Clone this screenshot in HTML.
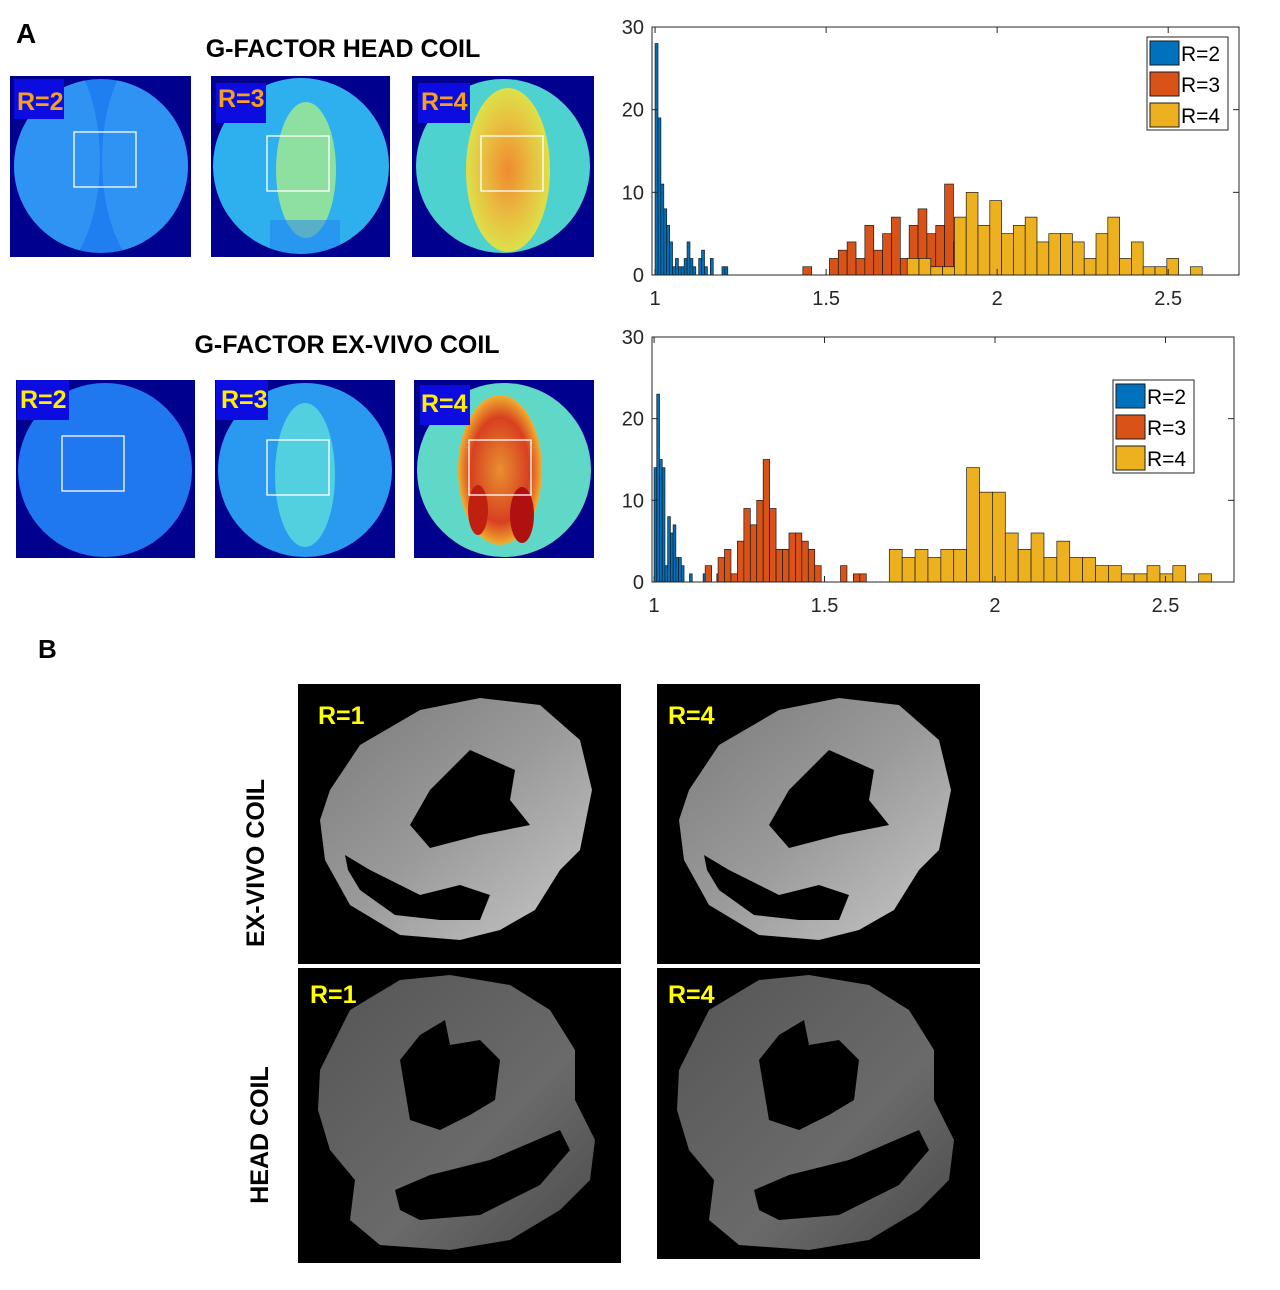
<!DOCTYPE html>
<html><head><meta charset="utf-8"><style>
html,body{margin:0;padding:0;background:#fff;}
svg text{font-family:"Liberation Sans",Arial,sans-serif;}
</style></head><body>
<svg id="root" width="1280" height="1285" viewBox="0 0 1280 1285" xmlns="http://www.w3.org/2000/svg">
<defs>
  <clipPath id="c1"><circle cx="101" cy="166" r="87"/></clipPath>
  <clipPath id="c2"><circle cx="301" cy="166" r="88"/></clipPath>
  <clipPath id="c3"><circle cx="503" cy="166" r="87"/></clipPath>
  <clipPath id="c4"><circle cx="105" cy="470" r="87"/></clipPath>
  <clipPath id="c5"><circle cx="305" cy="470" r="87"/></clipPath>
  <clipPath id="c6"><circle cx="504" cy="470" r="87"/></clipPath>
  <radialGradient id="hot" cx="0.5" cy="0.5" r="0.5"><stop offset="0" stop-color="#f08a30"/><stop offset="0.6" stop-color="#e8c040"/><stop offset="1" stop-color="#dde04a"/></radialGradient>
  <radialGradient id="hot2" cx="0.5" cy="0.5" r="0.5"><stop offset="0" stop-color="#e89030"/><stop offset="0.7" stop-color="#d84020"/><stop offset="1" stop-color="#f0b030"/></radialGradient>
  <linearGradient id="mriTop" x1="0" y1="0" x2="1" y2="1"><stop offset="0" stop-color="#7a7a7a"/><stop offset="0.5" stop-color="#9a9a9a"/><stop offset="1" stop-color="#c8c8c8"/></linearGradient>
  <linearGradient id="mriBot" x1="0" y1="0" x2="1" y2="1"><stop offset="0" stop-color="#555"/><stop offset="0.6" stop-color="#6a6a6a"/><stop offset="1" stop-color="#4a4a4a"/></linearGradient>
</defs>

<text x="16" y="43" font-size="28" font-weight="bold">A</text>
<text x="38" y="658" font-size="26" font-weight="bold">B</text>
<text x="343" y="57" font-size="25" font-weight="bold" text-anchor="middle">G-FACTOR HEAD COIL</text>
<text x="347" y="353" font-size="25" font-weight="bold" text-anchor="middle">G-FACTOR EX-VIVO COIL</text>

<!-- head coil gmaps -->
<g>
  <rect x="10" y="76" width="181" height="181" fill="#00008f"/>
  <circle cx="101" cy="166" r="87" fill="#1f7ef0"/>
  <g clip-path="url(#c1)"><ellipse cx="40" cy="160" rx="60" ry="120" fill="#2e93f2"/><ellipse cx="162" cy="160" rx="60" ry="120" fill="#2e93f2"/></g>
  <rect x="74" y="132" width="62" height="55" fill="none" stroke="#fff" stroke-width="1.3"/>
  <rect x="14" y="79" width="50" height="40" fill="#0c0ce0"/>
  <text x="17" y="110" font-size="25" font-weight="bold" fill="#f5a020">R=2</text>
</g>
<g>
  <rect x="211" y="76" width="179" height="181" fill="#00008f"/>
  <circle cx="301" cy="166" r="88" fill="#2fb0ee"/>
  <g clip-path="url(#c2)"><ellipse cx="306" cy="170" rx="30" ry="68" fill="#8ee0a0"/><rect x="270" y="220" width="70" height="60" fill="#1f7ef0" opacity="0.5"/></g>
  <rect x="267" y="136" width="62" height="55" fill="none" stroke="#fff" stroke-width="1.3"/>
  <rect x="216" y="83" width="50" height="40" fill="#0c0ce0"/>
  <text x="218" y="107" font-size="25" font-weight="bold" fill="#f5a020">R=3</text>
</g>
<g>
  <rect x="412" y="76" width="182" height="181" fill="#00008f"/>
  <circle cx="503" cy="166" r="87" fill="#4ed2d0"/>
  <g clip-path="url(#c3)"><ellipse cx="508" cy="170" rx="42" ry="82" fill="url(#hot)"/></g>
  <rect x="481" y="136" width="62" height="55" fill="none" stroke="#fff" stroke-width="1.3"/>
  <rect x="418" y="83" width="52" height="40" fill="#0c0ce0"/>
  <text x="421" y="110" font-size="25" font-weight="bold" fill="#f5a020">R=4</text>
</g>

<!-- ex vivo gmaps -->
<g>
  <rect x="16" y="380" width="179" height="178" fill="#00008f"/>
  <circle cx="105" cy="470" r="87" fill="#1f78f0"/>
  <rect x="62" y="436" width="62" height="55" fill="none" stroke="#fff" stroke-width="1.3"/>
  <rect x="17" y="380" width="52" height="40" fill="#0c0ce0"/>
  <text x="20" y="408" font-size="25" font-weight="bold" fill="#ffee00">R=2</text>
</g>
<g>
  <rect x="215" y="380" width="180" height="178" fill="#00008f"/>
  <circle cx="305" cy="470" r="87" fill="#2a9af0"/>
  <g clip-path="url(#c5)"><ellipse cx="305" cy="475" rx="30" ry="72" fill="#52d0e0"/></g>
  <rect x="267" y="440" width="62" height="55" fill="none" stroke="#fff" stroke-width="1.3"/>
  <rect x="216" y="380" width="52" height="40" fill="#0c0ce0"/>
  <text x="221" y="408" font-size="25" font-weight="bold" fill="#ffee00">R=3</text>
</g>
<g>
  <rect x="414" y="380" width="180" height="178" fill="#00008f"/>
  <circle cx="504" cy="470" r="87" fill="#60d8c8"/>
  <g clip-path="url(#c6)"><ellipse cx="500" cy="470" rx="42" ry="75" fill="url(#hot2)"/><ellipse cx="522" cy="515" rx="12" ry="28" fill="#b01010"/><ellipse cx="478" cy="510" rx="10" ry="25" fill="#c02010"/></g>
  <rect x="469" y="440" width="62" height="55" fill="none" stroke="#fff" stroke-width="1.3"/>
  <rect x="420" y="385" width="50" height="40" fill="#0c0ce0"/>
  <text x="421" y="412" font-size="25" font-weight="bold" fill="#ffee00">R=4</text>
</g>

<!-- B panels -->
<g id="mriPanels"></g>
<text transform="translate(264,863) rotate(-90)" font-size="25" font-weight="bold" text-anchor="middle">EX-VIVO COIL</text>
<text transform="translate(268,1135) rotate(-90)" font-size="25" font-weight="bold" text-anchor="middle">HEAD COIL</text>

<g id="chartTop"></g>
<g id="chartBot"></g>
</svg>
<script>
// ---- top histogram data (head coil) ----
const topR2Start = 1.0, topR2Width = 0.0085;
const topR2Counts = [28,19,11,8,6,4,1,2,1,1,2,4,2,1,0,2,3,1,0,2,0,0,0,1,1];
const topR3Start = 1.432, topR3Width = 0.0259;
const topR3Counts = [1,0,0,2,3,4,2,6,3,5,7,2,6,8,5,6,11,4,3,2,2,2,1,3];
const topR4Start = 1.737, topR4Width = 0.0345;
const topR4Counts = [2,2,1,1,7,10,6,9,5,6,7,4,5,5,4,2,5,7,2,4,1,1,2,0,1];
// ---- bottom histogram data (ex-vivo coil) ----
const botR2Start = 1.0, botR2Width = 0.008;
const botR2Counts = [14,23,15,14,2,8,6,7,3,3,2,0,0,1,0,0,0,0,1,0,0,0,0,1];
const botR3Start = 1.15, botR3Width = 0.0189;
const botR3Counts = [2,0,3,4,1,5,9,7,10,15,9,4,4,6,6,5,4,2,0,0,0,2,0,1,1];
const botR4Start = 1.69, botR4Width = 0.0378;
const botR4Counts = [4,3,4,3,4,4,14,11,11,6,4,6,3,5,3,3,2,2,1,1,2,1,2,0,1];
const yTicks = [0,10,20,30];
const xTicks = [1,1.5,2,2.5];
const xTickLabels = ["1","1.5","2","2.5"];
const seriesNames = ["R=2","R=3","R=4"];
const seriesColors = ["#0072bd","#d95319","#edb120"];

const NS = "http://www.w3.org/2000/svg";
function mk(tag, attrs, parent){const e=document.createElementNS(NS,tag);for(const k in attrs)e.setAttribute(k,attrs[k]);parent.appendChild(e);return e;}

function drawChart(g, box, xmin, xmax, ymax, series, legend){
  const X = v => box.x0 + (v - xmin) / (xmax - xmin) * (box.x1 - box.x0);
  const Y = c => box.y1 - c / ymax * (box.y1 - box.y0);
  series.forEach((s, si) => {
    s.counts.forEach((c, i) => {
      if (c <= 0) return;
      const a = s.start + i * s.width, b = a + s.width;
      const r = mk("rect", {x:X(a), y:Y(c), width:X(b)-X(a), height:Y(0)-Y(c), fill:seriesColors[si], stroke:"#1a1a1a", "stroke-width":0.7}, g);
      
      
    });
  });
  const fr = mk("rect", {x:box.x0, y:box.y0, width:box.x1-box.x0, height:box.y1-box.y0, fill:"none", stroke:"#262626", "stroke-width":1}, g);
  
  
  yTicks.forEach(t => {
    const y = Y(t);
    mk("line", {x1:box.x0, x2:box.x0+6, y1:y, y2:y, stroke:"#262626"}, g);
    mk("line", {x1:box.x1, x2:box.x1-6, y1:y, y2:y, stroke:"#262626"}, g);
    const tx = mk("text", {x:box.x0-8, y:y+7, "font-size":20, "text-anchor":"end", fill:"#262626"}, g);
    tx.textContent = t;
    
    
  });
  xTicks.forEach((t, i) => {
    const x = X(t);
    mk("line", {x1:x, x2:x, y1:box.y1, y2:box.y1-6, stroke:"#262626"}, g);
    mk("line", {x1:x, x2:x, y1:box.y0, y2:box.y0+6, stroke:"#262626"}, g);
    const tx = mk("text", {x:x, y:box.y1+30, "font-size":20, "text-anchor":"middle", fill:"#262626"}, g);
    tx.textContent = xTickLabels[i];
    
    
  });
  const lg = mk("g", {}, g);
  
  
  mk("rect", {x:legend.x, y:legend.y, width:81, height:93, fill:"#fff", stroke:"#262626", "stroke-width":1}, lg);
  seriesNames.forEach((n, i) => {
    const ey = legend.y + 4 + i * 31;
    const sw = mk("rect", {x:legend.x+3, y:ey, width:29, height:24, fill:seriesColors[i], stroke:"#1a1a1a", "stroke-width":1}, lg);
    
    
    const tx = mk("text", {x:legend.x+34, y:ey+20, "font-size":21, fill:"#000"}, lg);
    tx.textContent = n;
    
    
  });
}
drawChart(document.getElementById("chartTop"), {x0:652, x1:1239, y0:27, y1:275}, 0.991, 2.707, 30,
  [{start:topR2Start,width:topR2Width,counts:topR2Counts},{start:topR3Start,width:topR3Width,counts:topR3Counts},{start:topR4Start,width:topR4Width,counts:topR4Counts}],
  {x:1147, y:37});
drawChart(document.getElementById("chartBot"), {x0:652, x1:1234, y0:337, y1:582}, 0.994, 2.701, 30,
  [{start:botR2Start,width:botR2Width,counts:botR2Counts},{start:botR3Start,width:botR3Width,counts:botR3Counts},{start:botR4Start,width:botR4Width,counts:botR4Counts}],
  {x:1113, y:380});

// MRI panels
const mp = document.getElementById("mriPanels");
const topOuter = "32,106 62,61 122,26 182,14 242,21 282,56 294,106 282,166 262,186 237,226 202,246 162,256 102,251 52,221 27,176 22,136";
const topHole = "112,141 132,106 172,66 217,86 212,116 232,141 182,151 132,164";
const topCres = "47,171 72,186 122,211 162,201 192,211 182,236 142,236 97,231 62,206 50,186";
const botOuter = "22,102 52,42 102,12 152,7 212,17 252,42 277,82 277,132 297,172 292,212 262,242 212,272 152,282 82,277 52,252 57,212 32,182 20,142";
const botHole = "102,92 122,67 147,52 152,77 182,72 202,92 197,132 172,147 142,162 112,152 107,122";
const botCres = "97,222 132,207 192,192 262,162 272,182 242,217 182,247 122,252 102,242";
function panel(x, y, w, h, outer, hole, cres, fill, label, lx, ly, name){
  const g = mk("g", {transform:`translate(${x},${y})`}, mp);
  
  
  mk("rect", {x:0, y:0, width:w, height:h, fill:"#000"}, g);
  mk("polygon", {points:outer, fill:fill}, g);
  mk("polygon", {points:hole, fill:"#000"}, g);
  mk("polygon", {points:cres, fill:"#000"}, g);
  const t = mk("text", {x:lx, y:ly, "font-size":25, "font-weight":"bold", fill:"#ffff00"}, g);
  t.textContent = label;
  
  
}
panel(298, 684, 323, 280, topOuter, topHole, topCres, "url(#mriTop)", "R=1", 20, 40, "mri-exvivo-r1");
panel(657, 684, 323, 280, topOuter, topHole, topCres, "url(#mriTop)", "R=4", 11, 40, "mri-exvivo-r4");
panel(298, 968, 323, 295, botOuter, botHole, botCres, "url(#mriBot)", "R=1", 12, 35, "mri-head-r1");
panel(657, 968, 323, 291, botOuter, botHole, botCres, "url(#mriBot)", "R=4", 11, 35, "mri-head-r4");
</script>
</body></html>
